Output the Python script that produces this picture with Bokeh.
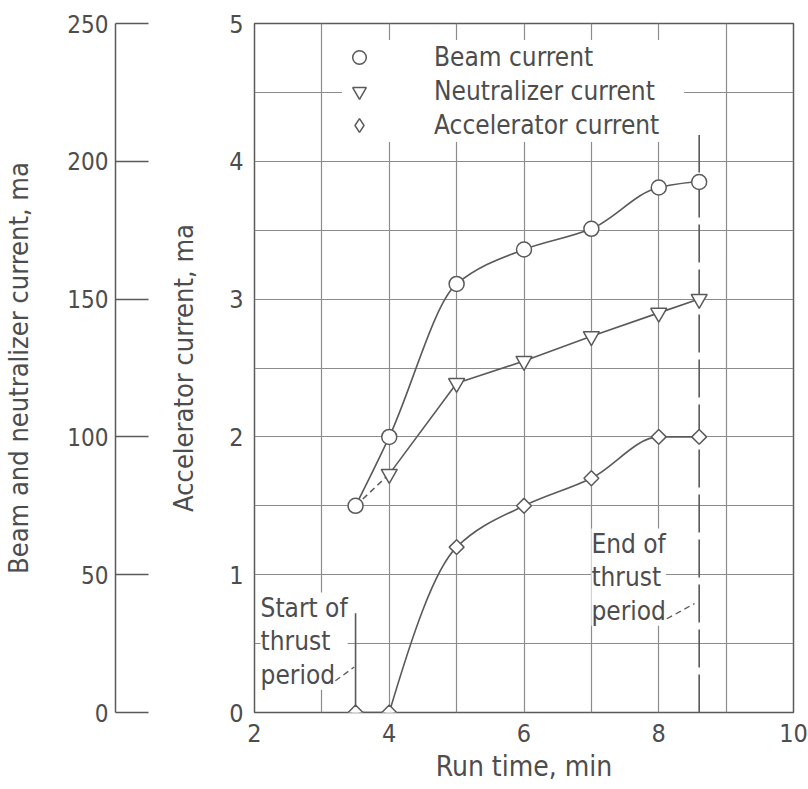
import numpy as np
from bokeh.plotting import figure
from bokeh.models import (Range1d, LinearAxis, SingleIntervalTicker, FixedTicker,
                          Legend, LegendItem, Label, ColumnDataSource)
from bokeh.embed import file_html
from bokeh.resources import INLINE

# ---------------- data ----------------
beam_time = [3.5, 4, 5, 6, 7, 8, 8.6]
beam_ma = [75, 100, 155.5, 168, 175.5, 190.5, 192.5]

neut_time = [4, 5, 6, 7, 8, 8.6]
neut_ma = [86.5, 119.5, 127.5, 136.5, 145, 150]

accel_time = [3.5, 4, 5, 6, 7, 8, 8.6]
accel_ma = [0, 0, 1.2, 1.5, 1.7, 2.0, 2.0]

x_ticks = [2, 4, 6, 8, 10]
accel_ticks = [0, 1, 2, 3, 4, 5]
beam_ticks = [0, 50, 100, 150, 200, 250]

start_time = beam_time[0]
end_time = beam_time[-1]
start_line_top = 0.72
end_line_top = 4.19
start_leader_x = [3.2, 3.48]
start_leader_y = [0.23, 0.33]
end_leader_x = [8.12, 8.53]
end_leader_y = [0.68, 0.79]

# ---------------- styles ----------------
INK = "#5a5a5a"
TXT = "#4d4d4d"
GRID = "#8c8c8c"
NUM_FONT = "DejaVu Sans Condensed"
TXT_FONT = "DejaVu Sans Condensed"


def pchip_bezier(xs, ys):
    """Monotone cubic (PCHIP) curve through the points, as Bezier segments."""
    x = np.asarray(xs, float)
    y = np.asarray(ys, float)
    h = np.diff(x)
    d = np.diff(y) / h
    n = len(x)
    m = np.zeros(n)
    for k in range(1, n - 1):
        if d[k - 1] * d[k] > 0:
            w1 = 2 * h[k] + h[k - 1]
            w2 = h[k] + 2 * h[k - 1]
            m[k] = (w1 + w2) / (w1 / d[k - 1] + w2 / d[k])

    def end_slope(h0, h1, d0, d1):
        s = ((2 * h0 + h1) * d0 - h0 * d1) / (h0 + h1)
        if np.sign(s) != np.sign(d0):
            return 0.0
        if np.sign(d0) != np.sign(d1) and abs(s) > abs(3 * d0):
            return 3 * d0
        return s

    if n > 2:
        m[0] = end_slope(h[0], h[1], d[0], d[1])
        m[-1] = end_slope(h[-1], h[-2], d[-1], d[-2])
    else:
        m[:] = d[0]
    return dict(
        x0=x[:-1], y0=y[:-1], x1=x[1:], y1=y[1:],
        cx0=x[:-1] + h / 3, cy0=y[:-1] + m[:-1] * h / 3,
        cx1=x[1:] - h / 3, cy1=y[1:] - m[1:] * h / 3,
    )


p = figure(width=808, height=789, output_backend="svg", toolbar_location=None,
           x_range=Range1d(2, 10), y_range=Range1d(0, 5),
           min_border_left=252, min_border_right=15, min_border_top=23,
           min_border_bottom=77, background_fill_color="white",
           border_fill_color="white")
p.extra_y_ranges = {"beam": Range1d(0, 250)}

p.outline_line_color = INK
p.outline_line_width = 1.5

# grid
p.xgrid.ticker = SingleIntervalTicker(interval=1)
p.ygrid.ticker = SingleIntervalTicker(interval=0.5)
p.grid.grid_line_color = GRID
p.grid.grid_line_width = 1.2

# x axis
xa = p.xaxis[0]
xa.ticker = FixedTicker(ticks=x_ticks)
xa.axis_line_color = None
xa.major_tick_out = 0
xa.major_tick_in = 0
xa.minor_tick_out = 0
xa.minor_tick_in = 0
xa.major_label_standoff = 11
xa.major_label_text_font = NUM_FONT
xa.major_label_text_font_size = "25px"
xa.major_label_text_color = TXT
xa.axis_label = "Run time, min"
xa.axis_label_standoff = 5
xa.axis_label_text_font = TXT_FONT
xa.axis_label_text_font_size = "28px"
xa.axis_label_text_font_style = "normal"
xa.axis_label_text_color = TXT

# main y axis (accelerator)
ya = p.yaxis[0]
ya.ticker = FixedTicker(ticks=accel_ticks)
ya.axis_line_color = None
ya.major_tick_out = 0
ya.major_tick_in = 0
ya.minor_tick_out = 0
ya.minor_tick_in = 0
ya.major_label_standoff = 11
ya.major_label_text_font = NUM_FONT
ya.major_label_text_font_size = "25px"
ya.major_label_text_color = TXT
ya.axis_label = "Accelerator current, ma"
ya.axis_label_standoff = 27
ya.axis_label_text_font = TXT_FONT
ya.axis_label_text_font_size = "27px"
ya.axis_label_text_font_style = "normal"
ya.axis_label_text_color = TXT

# spacer axis between the two left axes
spacer = LinearAxis(ticker=FixedTicker(ticks=[]), axis_line_color=None,
                    major_tick_out=0, major_tick_in=0, minor_tick_out=0,
                    minor_tick_in=0, axis_label=" ", axis_label_standoff=36,
                    axis_label_text_font_size="10px")
p.add_layout(spacer, "left")

# secondary axis (beam and neutralizer)
ba = LinearAxis(y_range_name="beam", ticker=FixedTicker(ticks=beam_ticks))
ba.axis_line_color = INK
ba.axis_line_width = 1.5
ba.major_tick_line_color = INK
ba.major_tick_line_width = 1.5
ba.major_tick_in = 33
ba.major_tick_out = 0
ba.minor_tick_in = 0
ba.minor_tick_out = 0
ba.major_label_standoff = 7
ba.major_label_text_font = NUM_FONT
ba.major_label_text_font_size = "24px"
ba.major_label_text_color = TXT
ba.axis_label = "Beam and neutralizer current, ma"
ba.axis_label_standoff = 30
ba.axis_label_text_font = TXT_FONT
ba.axis_label_text_font_size = "27px"
ba.axis_label_text_font_style = "normal"
ba.axis_label_text_color = TXT
p.add_layout(ba, "left")

# ---------------- curves ----------------
bez = dict(x0="x0", y0="y0", x1="x1", y1="y1", cx0="cx0", cy0="cy0", cx1="cx1", cy1="cy1")
p.bezier(source=ColumnDataSource(pchip_bezier(beam_time, beam_ma)),
         line_color=INK, line_width=1.6, y_range_name="beam", **bez)

p.line([beam_time[0], neut_time[0]], [beam_ma[0], neut_ma[0]], line_color=INK,
       line_width=1.5, line_dash="6 4", y_range_name="beam")
p.line(neut_time, neut_ma, line_color=INK, line_width=1.6, y_range_name="beam")

p.line(accel_time[:2], accel_ma[:2], line_color=INK, line_width=1.6)
p.bezier(source=ColumnDataSource(pchip_bezier(accel_time[1:], accel_ma[1:])),
         line_color=INK, line_width=1.6, **bez)

# thrust-period markers
p.segment(x0=[start_time], y0=[0], x1=[start_time], y1=[start_line_top],
          line_color=INK, line_width=1.6)
p.segment(x0=[end_time], y0=[0], x1=[end_time], y1=[end_line_top],
          line_color=INK, line_width=1.6, line_dash="38 7")
p.line(start_leader_x, start_leader_y, line_color=INK, line_width=1.3, line_dash="6 4")
p.line(end_leader_x, end_leader_y, line_color=INK, line_width=1.3, line_dash="6 4")

# markers
r_beam = p.scatter(beam_time, beam_ma, marker="circle", size=15, fill_color="white",
                   line_color=INK, line_width=1.5, y_range_name="beam")
r_neut = p.scatter(neut_time, neut_ma, marker="inverted_triangle", size=16,
                   fill_color="white", line_color=INK, line_width=1.5,
                   y_range_name="beam")
# diamond key for the legend (sits fully hidden under the square-diamonds below)
r_acc_key = p.scatter(accel_time, accel_ma, marker="diamond", size=13,
                      fill_color="white", line_color=INK, line_width=1.5)
p.scatter(accel_time, accel_ma, marker="square", angle=np.pi / 4, size=10.5,
          fill_color="white", line_color=INK, line_width=1.5)

# annotations
for x, y, txt in [(2.09, 0.87, "Start of\nthrust\nperiod"),
                  (7.0, 1.335, "End of\nthrust\nperiod")]:
    lab = Label(x=x, y=y, text=txt, text_align="left", text_baseline="top",
                text_font=TXT_FONT, text_font_size="26px", text_color=TXT,
                text_line_height=1.12, background_fill_color="white",
                background_fill_alpha=1.0, level="underlay")
    p.add_layout(lab)

legend = Legend(items=[LegendItem(label="Beam current", renderers=[r_beam]),
                       LegendItem(label="Neutralizer current", renderers=[r_neut]),
                       LegendItem(label="Accelerator current", renderers=[r_acc_key])],
                location=(88, 570), padding=6, margin=0, spacing=0,
                glyph_width=34, glyph_height=34, label_height=34, label_width=250,
                label_standoff=58, background_fill_color="white",
                background_fill_alpha=1.0, border_line_color=None,
                label_text_font=TXT_FONT, label_text_font_size="26px",
                label_text_color=TXT, label_text_baseline="middle")
p.add_layout(legend)

open("out.html", "w").write(file_html(p, INLINE))
